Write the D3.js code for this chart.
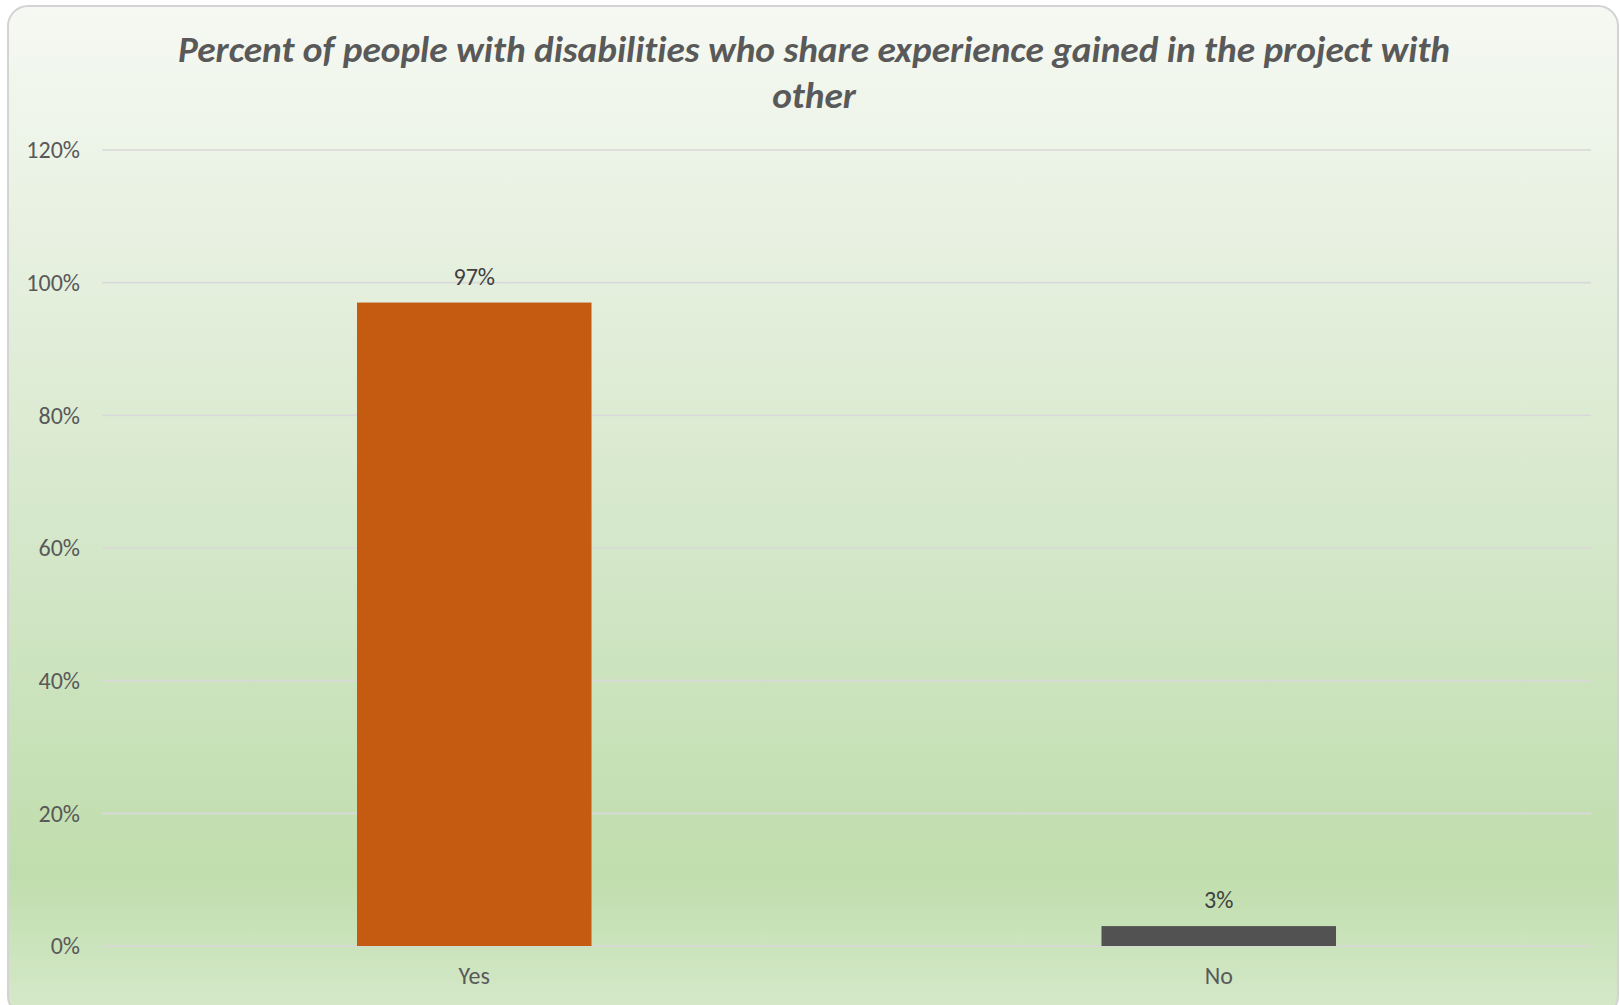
<!DOCTYPE html>
<html>
<head>
<meta charset="utf-8">
<script src="https://cdn.jsdelivr.net/npm/d3@7"></script>
<style>
  html, body { margin: 0; padding: 0; background: #ffffff; }
  svg { display: block; }
  text { font-variant-ligatures: none; }
</style>
</head>
<body>
<svg id="chart" width="1620" height="1005"></svg>
<script>
// Survey answers and their shares
const categories = ["Yes", "No"];
const values = [0.97, 0.03];
const barColors = ["#c55a11", "#525252"];
const yTicks = [0, 0.2, 0.4, 0.6, 0.8, 1.0, 1.2];
const titleLines = [
  "Percent of people with disabilities who share experience gained in the project with",
  "other"
];

const W = 1620, H = 1005;
const font = "Carlito, Calibri, Lato, 'Open Sans', sans-serif";
const svg = d3.select("#chart");

// Card background with soft green vertical gradient
const defs = svg.append("defs");
const grad = defs.append("linearGradient")
  .attr("id", "bg").attr("x1", 0).attr("y1", 0).attr("x2", 0).attr("y2", 1);
[
  [0, "#f6f9f3"],
  [0.3, "#e3eedb"],
  [0.6, "#d0e5c4"],
  [0.86, "#c0dead"],
  [1, "#d6e9cb"]
].forEach(([o, c]) => grad.append("stop").attr("offset", o).attr("stop-color", c));

svg.append("rect")
  .attr("x", 8).attr("y", 6)
  .attr("width", 1610).attr("height", 1010)
  .attr("rx", 20).attr("ry", 20)
  .attr("fill", "url(#bg)")
  .attr("stroke", "#d3d3d3").attr("stroke-width", 2);

// Plot area
const plot = { left: 102, right: 1591, top: 150, bottom: 946 };

const x = d3.scaleBand()
  .domain(categories)
  .range([plot.left, plot.right])
  .paddingInner(0.685)
  .paddingOuter(0.3425);

const y = d3.scaleLinear()
  .domain([0, 1.2])
  .range([plot.bottom, plot.top]);

// Horizontal gridlines
svg.append("g")
  .selectAll("line")
  .data(yTicks)
  .join("line")
  .attr("x1", plot.left).attr("x2", plot.right)
  .attr("y1", d => y(d)).attr("y2", d => y(d))
  .attr("stroke", "#d9d9d9").attr("stroke-width", 1.6);

// Y axis labels
const yAxis = d3.axisLeft(y)
  .tickValues(yTicks)
  .tickFormat(d3.format(".0%"))
  .tickSize(0)
  .tickPadding(0);

const yG = svg.append("g")
  .attr("transform", `translate(${plot.left - 22},0)`)
  .call(yAxis);
yG.select(".domain").remove();
yG.selectAll("text")
  .attr("font-family", font)
  .attr("font-size", 24)
  .attr("fill", "#595959");

// Bars
svg.append("g")
  .selectAll("rect")
  .data(categories)
  .join("rect")
  .attr("x", d => x(d))
  .attr("width", x.bandwidth())
  .attr("y", (d, i) => y(values[i]))
  .attr("height", (d, i) => y(0) - y(values[i]))
  .attr("fill", (d, i) => barColors[i]);

// Value labels above bars
svg.append("g")
  .selectAll("text")
  .data(categories)
  .join("text")
  .attr("x", d => x(d) + x.bandwidth() / 2)
  .attr("y", (d, i) => y(values[i]) - 18)
  .attr("text-anchor", "middle")
  .attr("font-family", font)
  .attr("font-size", 24)
  .attr("fill", "#404040")
  .text((d, i) => d3.format(".0%")(values[i]));

// Category axis
const xAxis = d3.axisBottom(x).tickSize(0).tickPadding(0);
const xG = svg.append("g")
  .attr("transform", `translate(0,${plot.bottom + 21})`)
  .call(xAxis);
xG.select(".domain").remove();
xG.selectAll("text")
  .attr("font-family", font)
  .attr("font-size", 24)
  .attr("fill", "#595959");

// Title
svg.append("g")
  .selectAll("text")
  .data(titleLines)
  .join("text")
  .attr("x", 814)
  .attr("y", (d, i) => 62 + i * 46)
  .attr("text-anchor", "middle")
  .attr("font-family", font)
  .attr("font-size", 37.3)
  .attr("font-weight", "bold")
  .attr("font-style", "italic")
  .attr("fill", "#595959")
  .text(d => d);
</script>
</body>
</html>
